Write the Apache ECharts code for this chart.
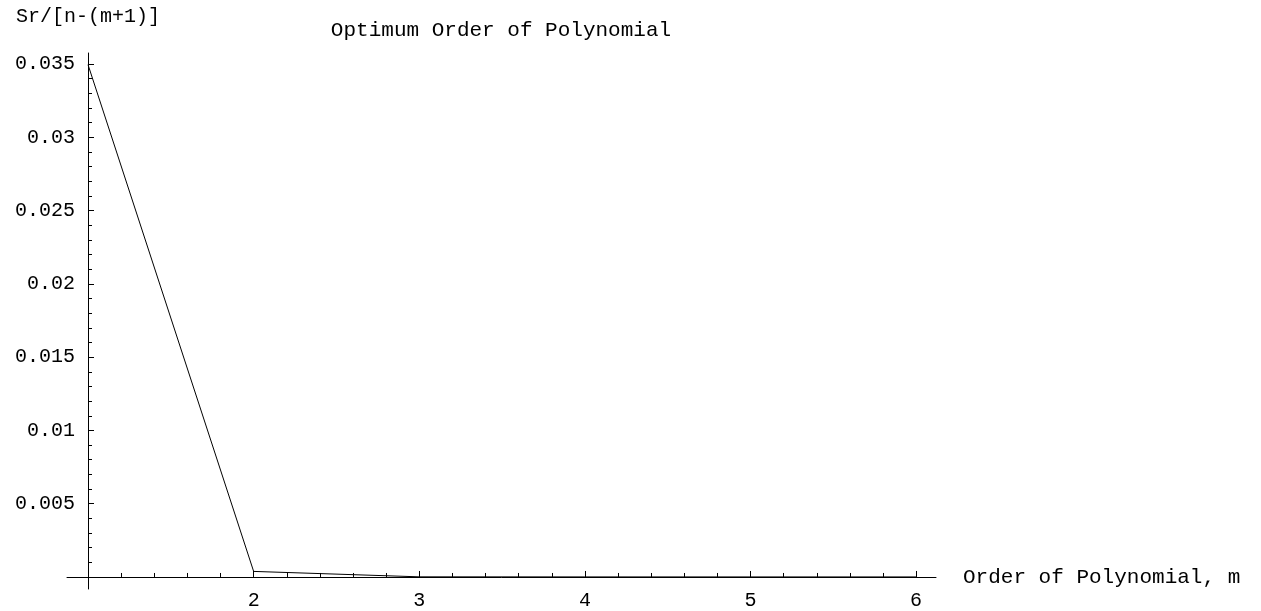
<!DOCTYPE html>
<html>
<head>
<meta charset="utf-8">
<title>Optimum Order of Polynomial</title>
<script src="https://cdn.jsdelivr.net/npm/echarts@6/dist/echarts.min.js"></script>
<style>
  html, body { margin: 0; padding: 0; background: #fff; }
  #chart { width: 1261px; height: 611px; }
</style>
</head>
<body>
<div id="chart"></div>
<script>
// polynomial order m and the matching Sr/[n-(m+1)] value
var orders = [1, 2, 3, 4, 5, 6];
var errValues = [0.03495, 0.00038, 0.00001, 0.000005, 0.000004, 0.000004];

// tick positions / labels as drawn
var xMajorTicks = [2, 3, 4, 5, 6];
var xMinorTicks = [1.2, 1.4, 1.6, 1.8, 2.2, 2.4, 2.6, 2.8, 3.2, 3.4, 3.6, 3.8,
                   4.2, 4.4, 4.6, 4.8, 5.2, 5.4, 5.6, 5.8];
var yMajorTicks = [0.005, 0.01, 0.015, 0.02, 0.025, 0.03, 0.035];
var yMinorTicks = [0.001, 0.002, 0.003, 0.004, 0.006, 0.007, 0.008, 0.009,
                   0.011, 0.012, 0.013, 0.014, 0.016, 0.017, 0.018, 0.019,
                   0.021, 0.022, 0.023, 0.024, 0.026, 0.027, 0.028, 0.029,
                   0.031, 0.032, 0.033, 0.034];

var font = '"Liberation Mono", "Courier New", monospace';
var XMIN = 0.873, XMAX = 6.12;
var YMIN = -0.00082, YMAX = 0.03575;

var chart = echarts.init(document.getElementById('chart'));

var axisLineStyle = { color: '#000', width: 1 };

chart.setOption({
    animation: false,
    backgroundColor: '#fff',
    title: {
        text: 'Optimum Order of Polynomial',
        left: 496,
        top: 15,
        textAlign: 'center',
        textStyle: { fontFamily: font, fontSize: 21, fontWeight: 'normal', color: '#000' }
    },
    grid: { left: 67, right: 325, top: 53, bottom: 22, containLabel: false, outerBoundsMode: 'none' },
    xAxis: [
        {
            type: 'value', min: XMIN, max: XMAX,
            axisLine: { onZero: true, lineStyle: axisLineStyle },
            axisTick: { inside: true, length: 6, customValues: xMajorTicks, lineStyle: axisLineStyle },
            axisLabel: {
                // labels sit from the grid edge, not the zero line
                customValues: xMajorTicks, margin: 2,
                fontFamily: font, fontSize: 20, color: '#000',
                formatter: function (v) { return String(Math.round(v)); }
            },
            splitLine: { show: false },
            name: 'Order of Polynomial, m',
            nameLocation: 'end',
            nameGap: 27,
            nameTextStyle: { fontFamily: font, fontSize: 21, color: '#000' }
        },
        {
            type: 'value', min: XMIN, max: XMAX, position: 'bottom',
            axisLine: { show: false, onZero: true },
            axisTick: { inside: true, length: 4, customValues: xMinorTicks, lineStyle: axisLineStyle },
            axisLabel: { show: false },
            splitLine: { show: false }
        }
    ],
    yAxis: [
        {
            type: 'value', min: YMIN, max: YMAX, offset: -21,
            axisLine: { show: true, onZero: false, lineStyle: axisLineStyle },
            axisTick: { show: true, inside: true, length: 6, customValues: yMajorTicks, lineStyle: axisLineStyle },
            axisLabel: {
                customValues: yMajorTicks, margin: 13,
                fontFamily: font, fontSize: 20, color: '#000',
                formatter: function (v) { return String(+v.toFixed(4)); }
            },
            splitLine: { show: false },
            name: 'Sr/[n-(m+1)]',
            nameLocation: 'end',
            nameGap: 26,
            nameTextStyle: { fontFamily: font, fontSize: 20, color: '#000', align: 'center' }
        },
        {
            type: 'value', min: YMIN, max: YMAX, offset: -21, position: 'left',
            axisLine: { show: false, onZero: false },
            axisTick: { show: true, inside: true, length: 4, customValues: yMinorTicks, lineStyle: axisLineStyle },
            axisLabel: { show: false },
            splitLine: { show: false }
        }
    ],
    series: [
        {
            type: 'line',
            xAxisIndex: 0,
            yAxisIndex: 0,
            data: orders.map(function (m, i) { return [m, errValues[i]]; }),
            showSymbol: false,
            symbol: 'none',
            lineStyle: { color: '#000', width: 1 }
        }
    ]
});
</script>
</body>
</html>
